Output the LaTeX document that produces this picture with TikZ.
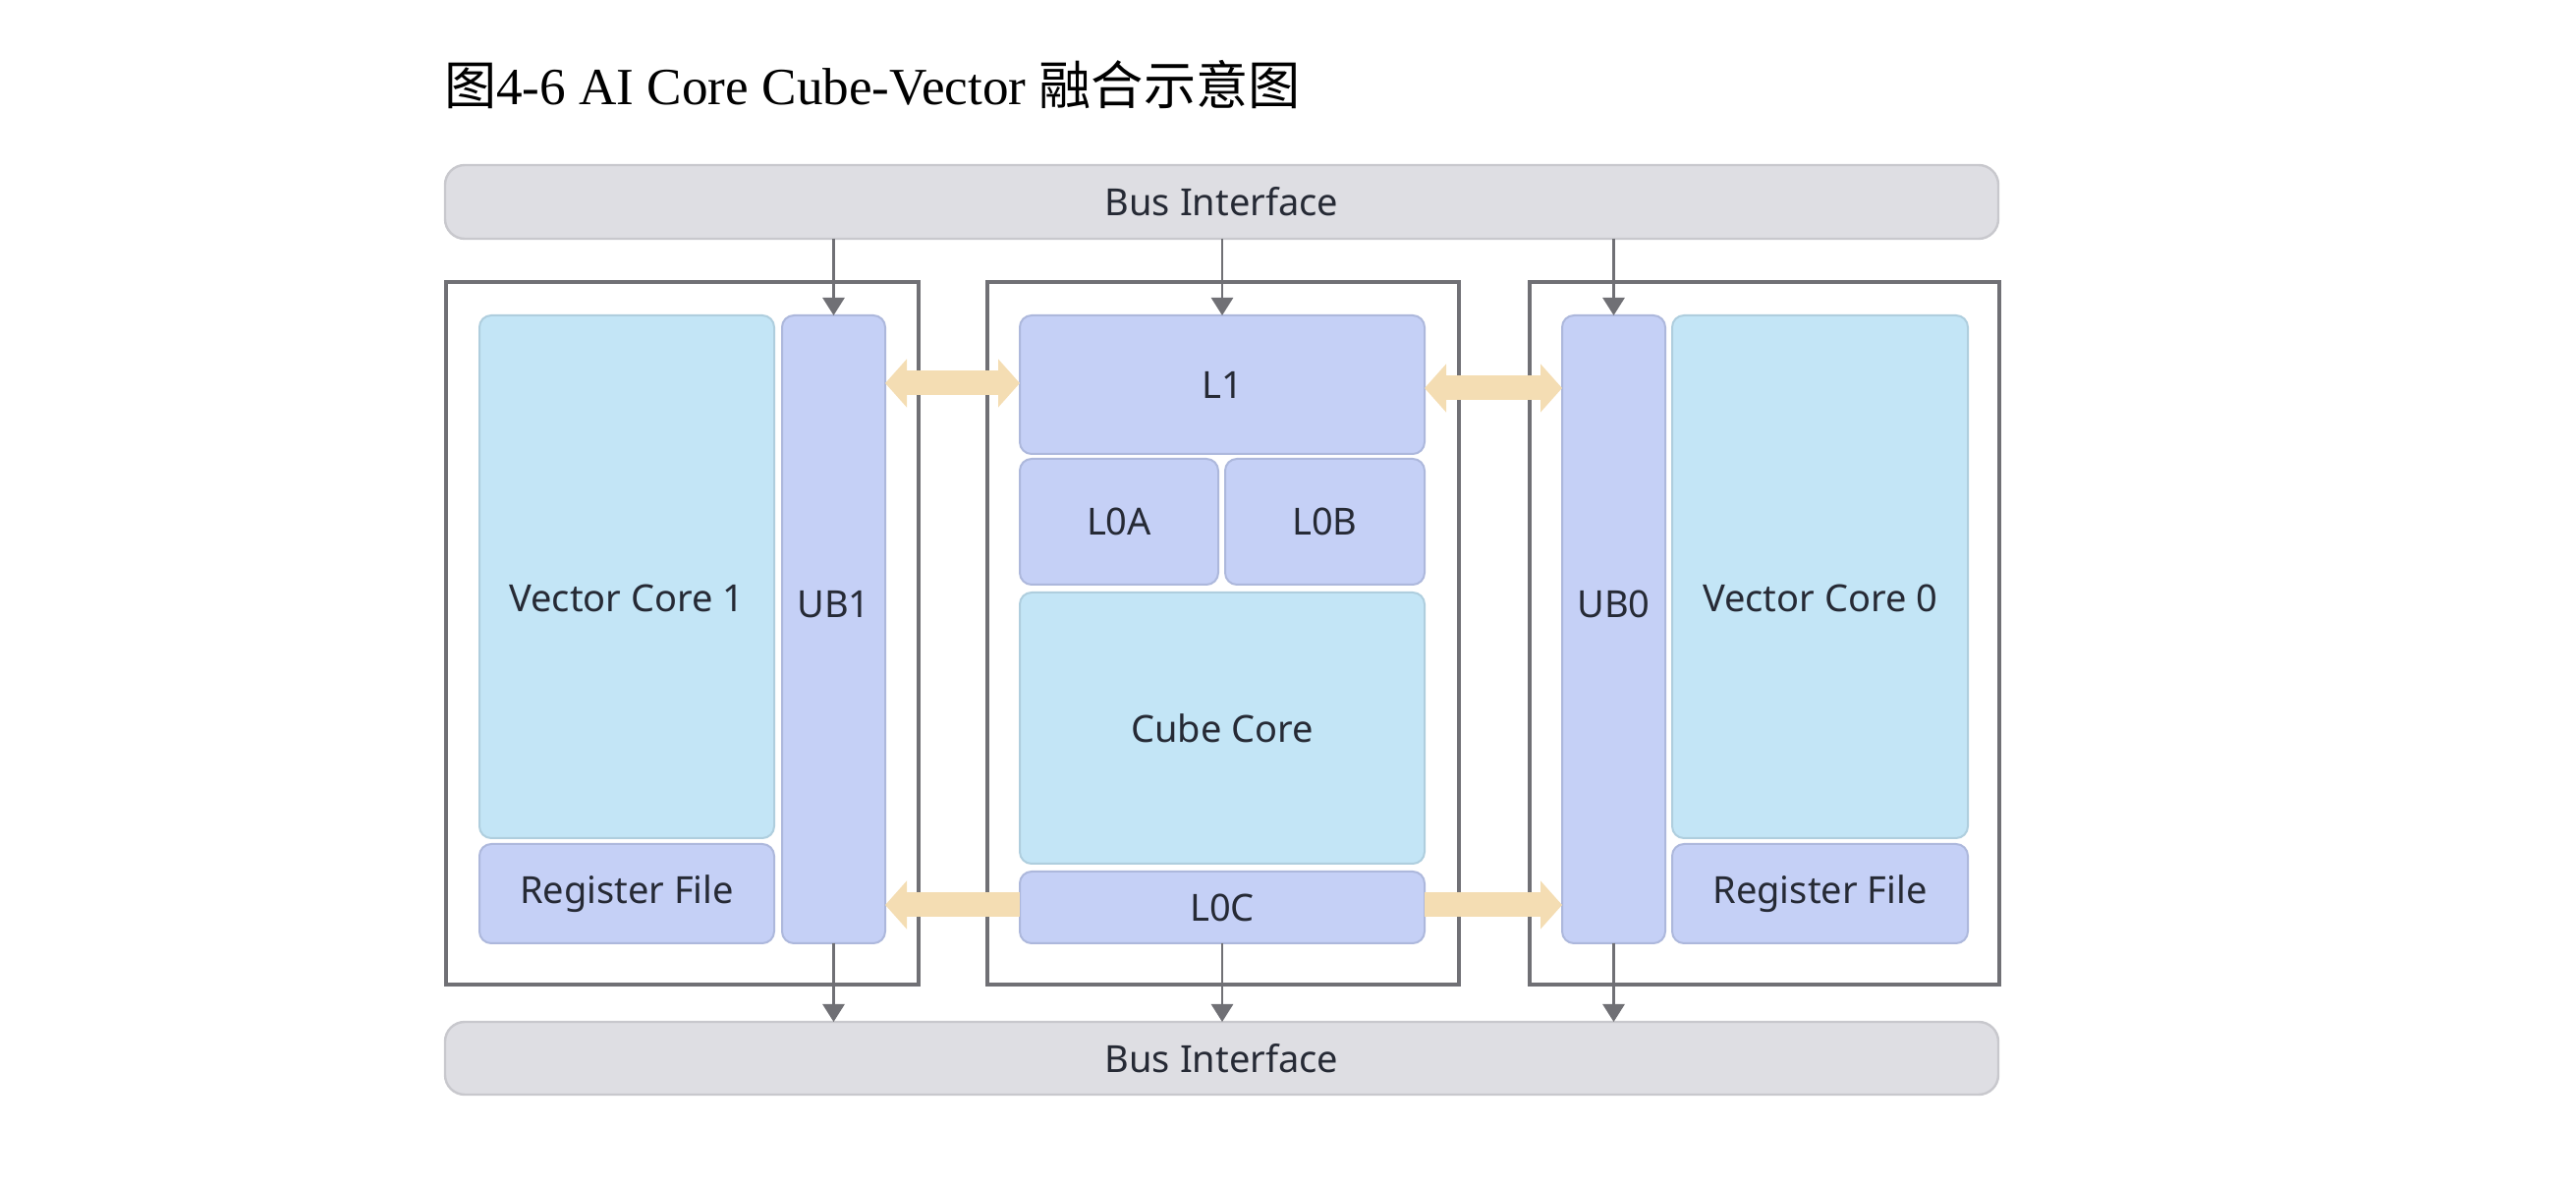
\documentclass[tikz,border=0pt]{standalone}
\usepackage{fontspec}
\setmainfont{Noto Sans}
\newfontfamily\titlefont{Liberation Serif}
\newfontfamily\cjk{Noto Sans CJK SC}
\usetikzlibrary{arrows.meta}
\definecolor{busfill}{HTML}{DEDEE3}
\definecolor{busline}{HTML}{C8C8CD}
\definecolor{vcfill}{HTML}{C3E5F6}
\definecolor{vcline}{HTML}{AFCEDE}
\definecolor{ubfill}{HTML}{C5D0F6}
\definecolor{ubline}{HTML}{ADB8DC}
\definecolor{frameline}{HTML}{707075}
\definecolor{txt}{HTML}{262A35}
\definecolor{orangearr}{HTML}{F4DDB3}
\begin{document}
\begin{tikzpicture}[x=0.25pt,y=-0.25pt,
  every node/.style={inner sep=0pt,outer sep=0pt,text=txt,font=\fontsize{9.5pt}{12pt}\selectfont},
  busbox/.style={draw=busline,fill=busfill,line width=0.6pt,rounded corners=5pt,minimum width=395.25pt},
  framebox/.style={draw=frameline,line width=0.9pt,minimum height=178.75pt},
  vcbox/.style={draw=vcline,fill=vcfill,line width=0.5pt,rounded corners=3pt},
  ubbox/.style={draw=ubline,fill=ubfill,line width=0.5pt,rounded corners=3pt},
  grayarrow/.style={draw=frameline,line width=0.7pt,-{Triangle[width=5.5pt,length=4.5pt]}},
  orangearrow/.style={draw=orangearr,line width=6.25pt,line cap=butt,{Triangle[width=12pt,length=5.5pt]}-{Triangle[width=12pt,length=5.5pt]}},
  orangesingle/.style={draw=orangearr,line width=6.25pt,line cap=butt,-{Triangle[width=12pt,length=5.5pt]}}
]
\useasboundingbox (0,0) rectangle (2622,1206);
% title
\node[anchor=base west,font=\titlefont\fontsize{13.3pt}{15pt}\selectfont,text=black] (title) at (452,107) {{\cjk 图}4-6 AI Core Cube-Vector {\cjk 融合示意图}};
% buses
\node[busbox,minimum height=18.75pt] (busT) at (1243.5,205.5) {Bus Interface};
\node[busbox,minimum height=18.5pt] (busB) at (1243.5,1077) {Bus Interface};
% frames
\node[framebox,minimum width=120.25pt] (outerL) at (694.5,644.5) {};
\node[framebox,minimum width=120pt] (outerM) at (1245,644.5) {};
\node[framebox,minimum width=119.5pt] (outerR) at (1796,644.5) {};
% left core
\node[vcbox,minimum width=75pt,minimum height=133pt] (vc1) at (638,587) {};
\node[ubbox,minimum width=75pt,minimum height=25.25pt] (rf1) at (638,909.5) {Register File};
\node[ubbox,minimum width=26.25pt,minimum height=159.75pt] (ub1) at (848.5,640.5) {};
% middle
\node[ubbox,minimum width=103pt,minimum height=35.25pt] (l1) at (1244,391.5) {L1};
\node[ubbox,minimum width=50.5pt,minimum height=32pt] (l0a) at (1139,531) {L0A};
\node[ubbox,minimum width=50.75pt,minimum height=32pt] (l0b) at (1348.5,531) {L0B};
\node[vcbox,minimum width=103pt,minimum height=69pt] (cube) at (1244,741) {Cube Core};
\node[ubbox,minimum width=103pt,minimum height=18.25pt] (l0c) at (1244,923.5) {L0C};
% right core
\node[ubbox,minimum width=26.25pt,minimum height=159.75pt] (ub0) at (1642.5,640.5) {};
\node[vcbox,minimum width=75.25pt,minimum height=133pt] (vc0) at (1852.5,587) {};
\node[ubbox,minimum width=75.25pt,minimum height=25.25pt] (rf0) at (1852.5,909.5) {Register File};
% labels placed off-centre
\node (vc1lab) at (638,609) {Vector Core 1};
\node (vc0lab) at (1852.5,609) {Vector Core 0};
\node (ub1lab) at (848.5,615) {UB1};
\node (ub0lab) at (1642.5,615) {UB0};
% gray arrows
\draw[grayarrow] (busT.south -| ub1.north) -- (ub1.north);
\draw[grayarrow] (busT.south -| l1.north) -- (l1.north);
\draw[grayarrow] (busT.south -| ub0.north) -- (ub0.north);
\draw[grayarrow] (ub1.south) -- (ub1.south |- busB.north);
\draw[grayarrow] (l0c.south) -- (l0c.south |- busB.north);
\draw[grayarrow] (ub0.south) -- (ub0.south |- busB.north);
% orange arrows
\coordinate (yA) at (0,390);
\coordinate (yB) at (0,395);
\coordinate (yC) at (0,921);
\draw[orangearrow] (ub1.east |- yA) -- (l1.west |- yA);
\draw[orangearrow] (l1.east |- yB) -- (ub0.west |- yB);
\draw[orangesingle] (l0c.west |- yC) -- (ub1.east |- yC);
\draw[orangesingle] (l0c.east |- yC) -- (ub0.west |- yC);
\end{tikzpicture}
\end{document}
